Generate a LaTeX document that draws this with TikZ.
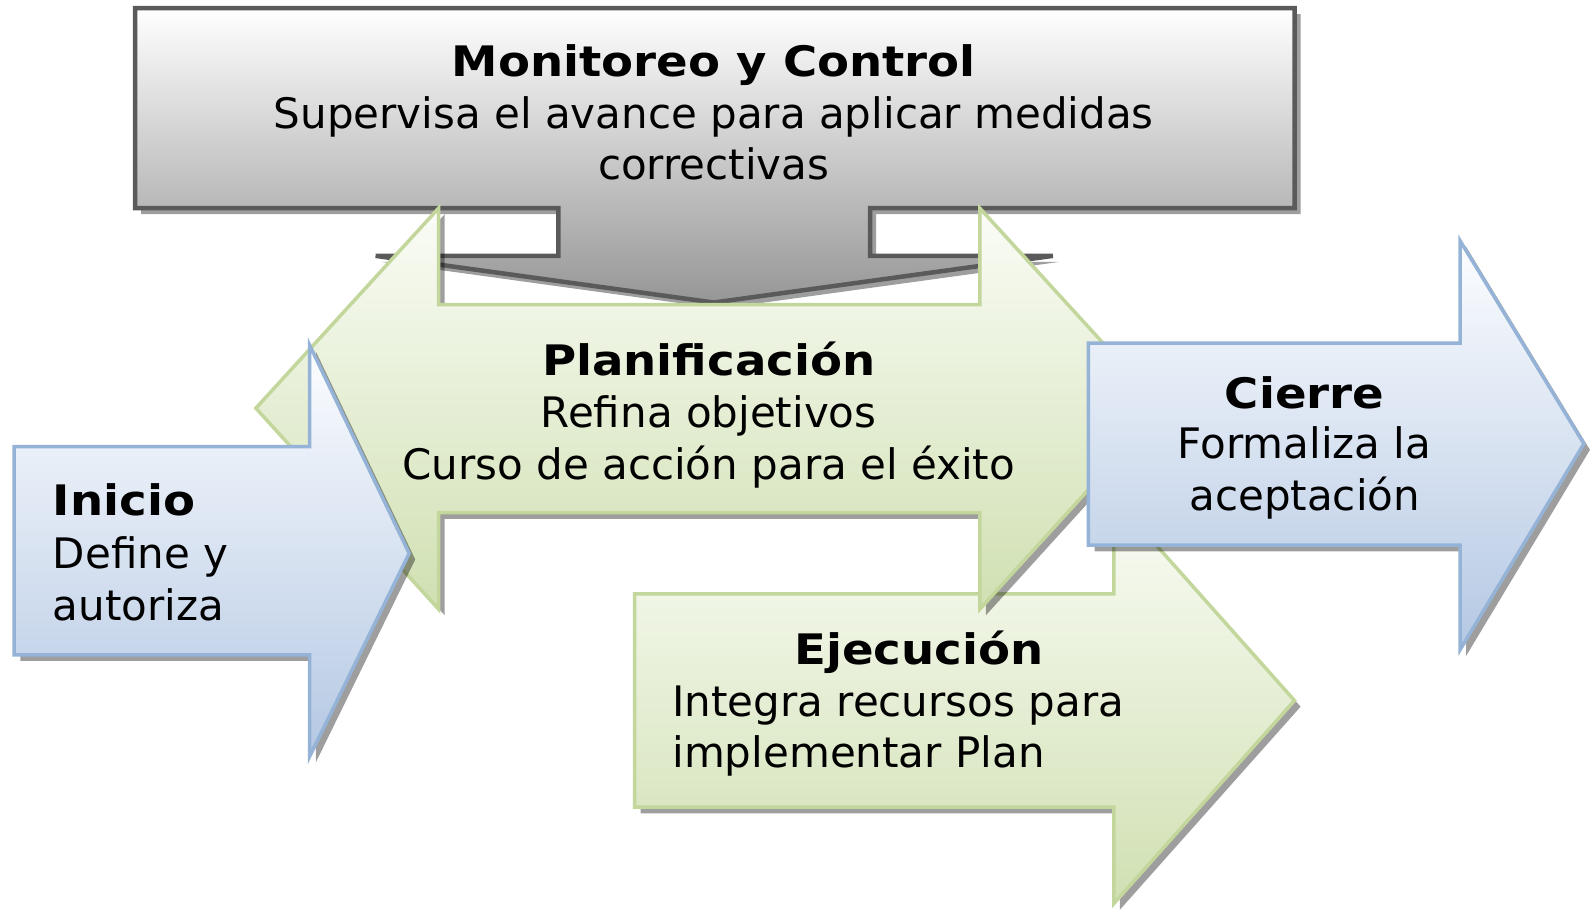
\documentclass[tikz,border=0pt]{standalone}
\usepackage{fontspec}
\setmainfont{DejaVu Sans}[BoldFeatures={FakeStretch=1.11}]
\definecolor{grayline}{RGB}{90,90,90}
\definecolor{graybot}{RGB}{150,150,150}
\definecolor{blueline}{RGB}{149,179,215}
\definecolor{bluebot}{RGB}{180,200,227}
\definecolor{bluetop}{RGB}{252,253,255}
\definecolor{greenline}{RGB}{195,214,155}
\definecolor{greenbot}{RGB}{208,224,178}
\definecolor{greentop}{RGB}{250,252,246}
\tikzset{
  shd/.style={fill=black, fill opacity=0.38},
  grayshape/.style={top color=white, bottom color=graybot, draw=grayline, line width=4.5pt, line join=miter},
  blueshape/.style={top color=bluetop, bottom color=bluebot, draw=blueline, line width=3.5pt, line join=miter},
  greenshape/.style={top color=greentop, bottom color=greenbot, draw=greenline, line width=3.5pt, line join=miter},
  ttl/.style={font={\fontsize{42}{52}\selectfont\bfseries}, inner sep=0pt},
  txt/.style={font={\fontsize{42}{52}\selectfont}, inner sep=0pt}
}
\begin{document}
\begin{tikzpicture}[x=1.0153pt,y=-1.0153pt]
\useasboundingbox (0,0) rectangle (1568,904);
% Monitoreo y Control
\begin{scope}[shift={(6,6)}]
\fill[shd] (133,8) -- (1275,8) -- (1275,205) -- (857,205) -- (857,252) -- (1037,252) -- (703,298) -- (370,252) -- (550,252) -- (550,205) -- (133,205) -- cycle;
\end{scope}
\shadedraw[grayshape] (133,8) -- (1275,8) -- (1275,205) -- (857,205) -- (857,252) -- (1037,252) -- (703,298) -- (370,252) -- (550,252) -- (550,205) -- (133,205) -- cycle;
% Ejecucion
\begin{scope}[shift={(6,6)}]
\fill[shd] (625,585) -- (1097,585) -- (1097,490) -- (1275,690) -- (1097,890) -- (1097,795) -- (625,795) -- cycle;
\end{scope}
\shadedraw[greenshape] (625,585) -- (1097,585) -- (1097,490) -- (1275,690) -- (1097,890) -- (1097,795) -- (625,795) -- cycle;
% Planificacion
\begin{scope}[shift={(6,6)}]
\fill[shd] (252,402) -- (432,205) -- (432,300) -- (965,300) -- (965,205) -- (1145,402) -- (965,600) -- (965,505) -- (432,505) -- (432,600) -- cycle;
\end{scope}
\shadedraw[greenshape] (252,402) -- (432,205) -- (432,300) -- (965,300) -- (965,205) -- (1145,402) -- (965,600) -- (965,505) -- (432,505) -- (432,600) -- cycle;
% Inicio
\begin{scope}[shift={(6,6)}]
\fill[shd] (14,440) -- (305,440) -- (305,340) -- (403,545) -- (305,745) -- (305,645) -- (14,645) -- cycle;
\end{scope}
\shadedraw[blueshape] (14,440) -- (305,440) -- (305,340) -- (403,545) -- (305,745) -- (305,645) -- (14,645) -- cycle;
% Cierre
\begin{scope}[shift={(6,6)}]
\fill[shd] (1072,338) -- (1438,338) -- (1438,237) -- (1560,437) -- (1438,640) -- (1438,537) -- (1072,537) -- cycle;
\end{scope}
\shadedraw[blueshape] (1072,338) -- (1438,338) -- (1438,237) -- (1560,437) -- (1438,640) -- (1438,537) -- (1072,537) -- cycle;
% texts
\node[ttl, anchor=base] (mont) at (703,75) {Monitoreo y Control};
\node[txt, anchor=base] (mona) at (703,127) {Supervisa el avance para aplicar medidas};
\node[txt, anchor=base] (monb) at (703,177) {correctivas};
\node[ttl, anchor=base] (plat) at (698,370) {Planificación};
\node[txt, anchor=base] (plaa) at (698,421) {Refina objetivos};
\node[txt, anchor=base] (plab) at (698,472) {Curso de acción para el éxito};
\node[ttl, anchor=base west] (init) at (52,508) {Inicio};
\node[txt, anchor=base west] (inia) at (52,560) {Define y};
\node[txt, anchor=base west] (inib) at (52,611) {autoriza};
\node[ttl, anchor=base] (ciet) at (1285,402) {Cierre};
\node[txt, anchor=base] (ciea) at (1285,452) {Formaliza la};
\node[txt, anchor=base] (cieb) at (1285,503) {aceptación};
\node[ttl, anchor=base] (ejet) at (905,654) {Ejecución};
\node[txt, anchor=base west] (ejea) at (662,706) {Integra recursos para};
\node[txt, anchor=base west] (ejeb) at (662,756) {implementar Plan};
\end{tikzpicture}
\end{document}
